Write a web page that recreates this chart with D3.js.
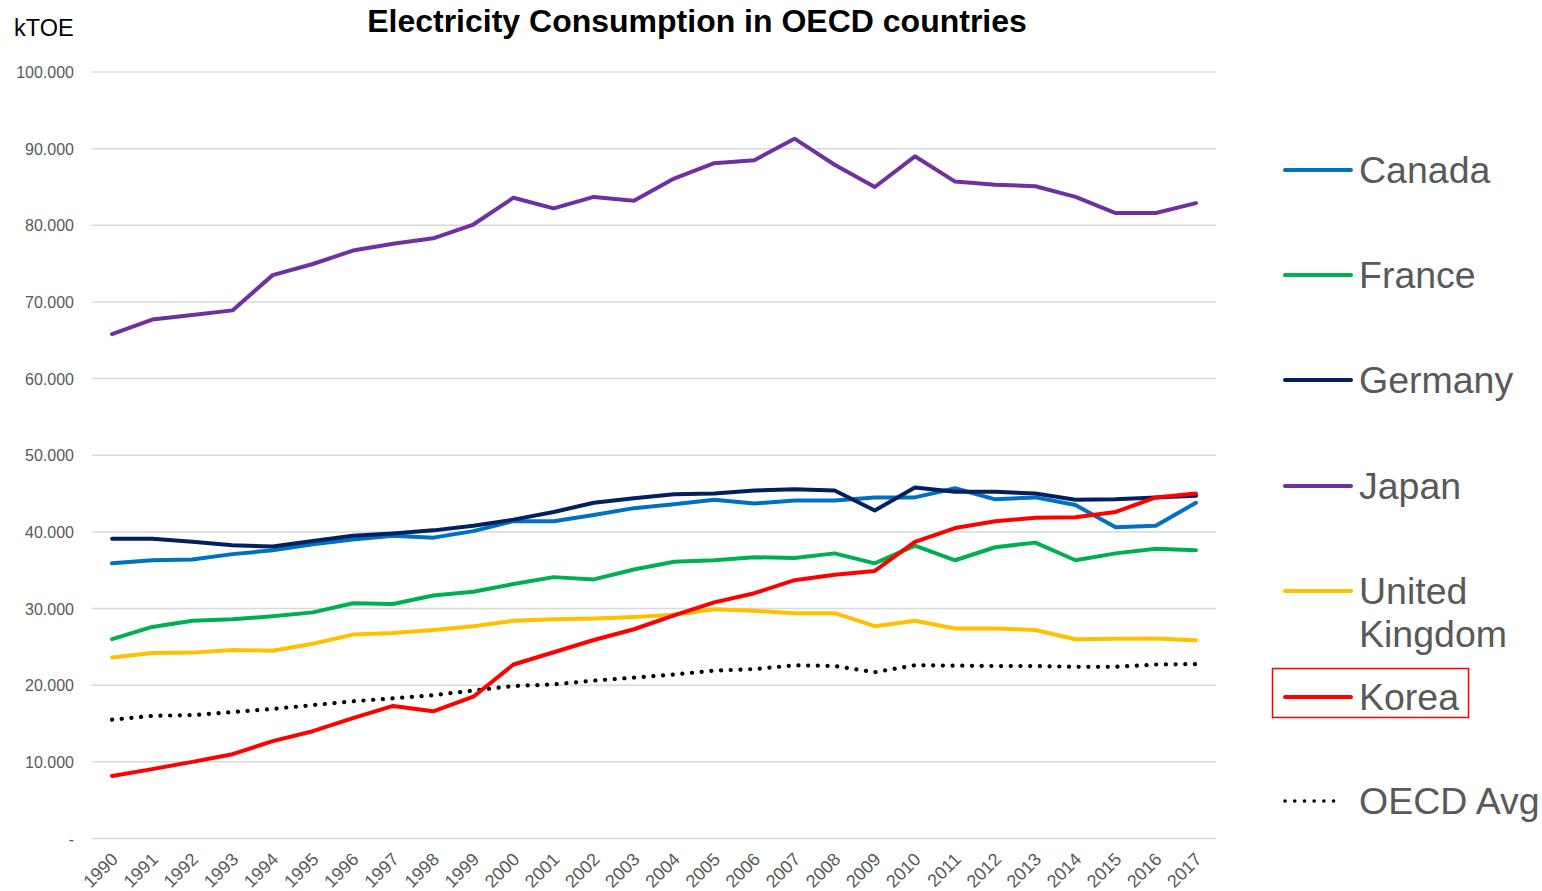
<!DOCTYPE html>
<html>
<head>
<meta charset="utf-8">
<script src="https://cdn.jsdelivr.net/npm/d3@7"></script>
<style>
  html, body { margin: 0; padding: 0; background: #fff; }
  svg { display: block; font-family: "Liberation Sans", Arial, sans-serif; }
</style>
</head>
<body>
<svg id="chart" width="1542" height="891"></svg>
<script>
// Electricity consumption, kTOE
const years = d3.range(1990, 2018);

const canada  = [35.9, 36.3, 36.4, 37.1, 37.6, 38.4, 39.0, 39.5, 39.25, 40.1,
                 41.4, 41.4, 42.2, 43.1, 43.6, 44.2, 43.7, 44.1, 44.1, 44.5,
                 44.5, 45.7, 44.25, 44.5, 43.5, 40.6, 40.8, 43.8];
const france  = [26.0, 27.6, 28.4, 28.6, 29.0, 29.5, 30.7, 30.6, 31.7, 32.2,
                 33.2, 34.1, 33.8, 35.1, 36.1, 36.3, 36.7, 36.6, 37.2, 35.9,
                 38.2, 36.3, 38.0, 38.6, 36.3, 37.2, 37.8, 37.6];
const germany = [39.1, 39.1, 38.7, 38.25, 38.1, 38.8, 39.5, 39.8, 40.2, 40.8,
                 41.6, 42.6, 43.8, 44.4, 44.9, 45.0, 45.4, 45.55, 45.4, 42.8,
                 45.8, 45.25, 45.25, 45.0, 44.2, 44.25, 44.5, 44.7];
const japan   = [65.8, 67.7, 68.3, 68.9, 73.5, 74.95, 76.7, 77.6, 78.3, 80.1,
                 83.6, 82.2, 83.7, 83.2, 86.1, 88.1, 88.5, 91.3, 87.9, 85.0,
                 89.0, 85.7, 85.3, 85.1, 83.7, 81.6, 81.6, 82.9];
const uk      = [23.6, 24.2, 24.25, 24.6, 24.5, 25.4, 26.6, 26.8, 27.2, 27.7,
                 28.4, 28.6, 28.7, 28.9, 29.2, 29.9, 29.7, 29.4, 29.4, 27.7,
                 28.4, 27.4, 27.4, 27.2, 26.0, 26.05, 26.1, 25.85];
const korea   = [8.15, 9.05, 10.0, 11.0, 12.7, 14.0, 15.7, 17.3, 16.6, 18.5,
                 22.7, 24.3, 25.9, 27.3, 29.1, 30.8, 32.0, 33.7, 34.4, 34.9,
                 38.7, 40.5, 41.4, 41.85, 41.9, 42.6, 44.5, 45.0];
const oecdAvg = [15.5, 16.0, 16.1, 16.5, 16.9, 17.4, 17.9, 18.3, 18.7, 19.3,
                 19.9, 20.1, 20.6, 21.0, 21.4, 21.9, 22.1, 22.6, 22.5, 21.7,
                 22.6, 22.55, 22.5, 22.5, 22.4, 22.4, 22.7, 22.75];

const seriesNames  = ["Canada", "France", "Germany", "Japan", "United Kingdom", "Korea", "OECD Avg"];
const seriesColors = ["#0070C0", "#00B050", "#002060", "#7030A0", "#FFC000", "#FF0000", "#000000"];
const seriesValues = [canada, france, germany, japan, uk, korea, oecdAvg];

const yTicks = d3.range(0, 100001, 10000);

const series = seriesNames.map((name, i) => ({
  name,
  color: seriesColors[i],
  dotted: name === "OECD Avg",
  values: seriesValues[i].map((v, j) => ({ year: years[j], value: v * 1000 }))
}));

const svg = d3.select("#chart");
const plot = { left: 92, right: 1216, top: 72, bottom: 838.5 };

const x = d3.scaleBand().domain(years).range([plot.left, plot.right]);
const y = d3.scaleLinear().domain([0, 100000]).range([plot.bottom, plot.top]);

const locale = d3.formatLocale({ decimal: ",", thousands: ".", grouping: [3], currency: ["", ""] });
const yFmt = v => v === 0 ? "-" : locale.format(",")(v);

// gridlines
svg.append("g")
  .selectAll("line")
  .data(yTicks)
  .join("line")
  .attr("x1", plot.left).attr("x2", plot.right)
  .attr("y1", d => y(d)).attr("y2", d => y(d))
  .attr("stroke", "#D9D9D9")
  .attr("stroke-width", 1.5);

// y axis labels
const yAxis = svg.append("g")
  .attr("transform", `translate(${plot.left - 18},0)`)
  .call(d3.axisLeft(y).tickValues(yTicks).tickFormat(yFmt).tickSize(0).tickPadding(0));
yAxis.select(".domain").remove();
yAxis.selectAll("text")
  .attr("fill", "#595959")
  .style("font-size", "16px")
  .attr("dy", "0.35em");

// x axis labels
const xAxis = svg.append("g")
  .attr("transform", `translate(0,${plot.bottom})`)
  .call(d3.axisBottom(x).tickSize(0).tickPadding(0));
xAxis.select(".domain").remove();
xAxis.selectAll("text")
  .attr("fill", "#595959")
  .style("font-size", "18px")
  .attr("text-anchor", "end")
  .attr("dy", null)
  .attr("transform", "translate(7,22) rotate(-45)");

// lines
const line = d3.line()
  .x(d => x(d.year) + x.bandwidth() / 2)
  .y(d => y(d.value));

const lines = svg.append("g");
// OECD average underneath, Korea on top
const drawOrder = [6, 4, 1, 0, 2, 3, 5];
drawOrder.forEach(i => {
  const s = series[i];
  lines.append("path")
    .datum(s.values)
    .attr("d", line)
    .attr("fill", "none")
    .attr("stroke", s.color)
    .attr("stroke-width", s.dotted ? 4.2 : 4)
    .attr("stroke-linejoin", "round")
    .attr("stroke-linecap", "round")
    .attr("stroke-dasharray", s.dotted ? "0.1 9.6" : null);
});

// title and unit
svg.append("text")
  .attr("x", 697).attr("y", 32)
  .attr("text-anchor", "middle")
  .style("font-size", "32px")
  .style("font-weight", "bold")
  .attr("fill", "#000")
  .text("Electricity Consumption in OECD countries");

svg.append("text")
  .attr("x", 14).attr("y", 36)
  .style("font-size", "23.5px")
  .attr("fill", "#000")
  .text("kTOE");

// legend
const legendY = [170, 275, 380, 486, 591, 697, 801];
const legend = svg.append("g");
series.forEach((s, i) => {
  const ly = legendY[i];
  legend.append("line")
    .attr("x1", 1285).attr("x2", s.dotted ? 1343 : 1351)
    .attr("y1", ly).attr("y2", ly)
    .attr("stroke", s.color)
    .attr("stroke-width", s.dotted ? 3.5 : 4)
    .attr("stroke-linecap", "round")
    .attr("stroke-dasharray", s.dotted ? "0.1 9.6" : null);
  const t = legend.append("text")
    .attr("x", 1359).attr("y", ly)
    .attr("dy", "0.35em")
    .style("font-size", "37.5px")
    .attr("fill", "#595959");
  if (s.name === "United Kingdom") {
    t.append("tspan").attr("x", 1359).text("United");
    t.append("tspan").attr("x", 1359).attr("dy", "1.15em").text("Kingdom");
  } else {
    t.text(s.name);
  }
});

// highlight box around Korea in the legend
legend.append("rect")
  .attr("x", 1272.5).attr("y", 668.5)
  .attr("width", 196).attr("height", 49)
  .attr("fill", "none")
  .attr("stroke", "#FF0000")
  .attr("stroke-width", 1.5);
</script>
</body>
</html>
